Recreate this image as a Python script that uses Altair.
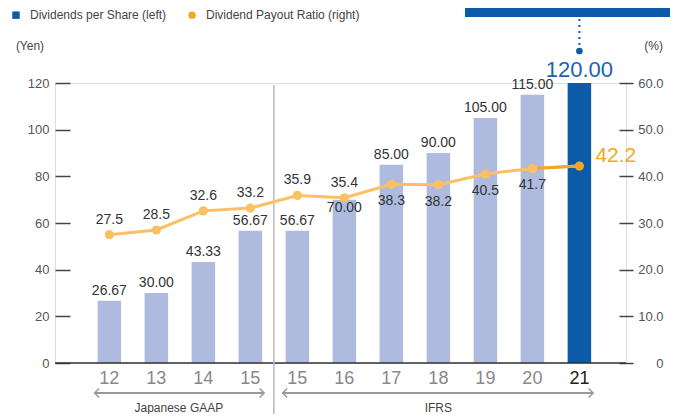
import altair as alt
import pandas as pd

# ---------------- data ----------------
cats = ["J12", "J13", "J14", "J15", "I15", "I16", "I17", "I18", "I19", "I20", "I21"]
dps = [26.67, 30.00, 43.33, 56.67, 56.67, 70.00, 85.00, 90.00, 105.00, 115.00, 120.00]
payout = [27.5, 28.5, 32.6, 33.2, 35.9, 35.4, 38.3, 38.2, 40.5, 41.7, 42.2]
left_ticks = [0, 20, 40, 60, 80, 100, 120]
right_ticks = [0, 10, 20, 30, 40, 50, 60]
legend_names = ["Dividends per Share (left)", "Dividend Payout Ratio (right)"]
axis_titles = ["(Yen)", "(%)"]
regimes = ["Japanese GAAP", "IFRS"]
regime_start = ["J12", "I15"]
regime_end = ["J15", "I21"]
payout_below = ["I17", "I18", "I19", "I20"]
dps_inside = ["I16"]
highlight = "I21"

df = pd.DataFrame({"cat": cats, "dps": dps, "payout": payout})
df["dps_label"] = [f"{v:.2f}" for v in dps]
df["pay_label"] = [f"{v:.1f}" for v in payout]
reg = pd.DataFrame({"regime": regimes, "start": regime_start, "end": regime_end})
one = pd.DataFrame({"k": [0]})

# ---------------- style ----------------
FONT = "Liberation Sans"
W, H = 571, 280
BAR = "#AEBBDF"
BLUE = "#0B5BA9"
BLUE_TXT = "#1B62B3"
OR_L = "#FCC064"
OR = "#F5A623"
TXT = "#333333"
GRAY = "#999999"
HALF_GAP = 11.75

xs = alt.Scale(domain=cats, paddingInner=0.5, paddingOuter=0.824, align=0.55)
ysl = alt.Scale(domain=[0, 120], nice=False)
ysr = alt.Scale(domain=[0, 60], nice=False)

x_axis = alt.Axis(title=None, ticks=False, domain=False, labelAngle=0,
                  labelExpr="substring(datum.label, 1)", labelFontSize=18,
                  labelFont=FONT, labelPadding=6,
                  labelColor={"condition": {"test": "datum.value === 'I21'", "value": "#222222"},
                              "value": "#888888"})

def X(**kw):
    return alt.X("cat:N", scale=xs, axis=x_axis, **kw)

# ---------------- left group (bars) ----------------
bars = alt.Chart(df).mark_bar().encode(
    x=X(),
    y=alt.Y("dps:Q", scale=ysl,
            axis=alt.Axis(title=None, values=left_ticks, orient="left", offset=-15,
                          tickSize=15, tickWidth=1.5, tickColor="#444444",
                          domain=False, grid=False, labelFontSize=13,
                          labelColor="#555555", labelPadding=6, labelFont=FONT)),
    color=alt.condition(alt.datum.cat == highlight, alt.value(BLUE), alt.value(BAR)),
)

zero = alt.Chart(one).mark_rule(color="#333333", strokeWidth=1.5).encode(
    y=alt.Y(datum=0, scale=ysl))

bar_lab = alt.Chart(df).transform_filter(
    {"not": alt.FieldOneOfPredicate(field="cat", oneOf=dps_inside + [highlight])}
).mark_text(dy=-10, fontSize=14, color=TXT, font=FONT).encode(
    x=X(), y=alt.Y("dps:Q", scale=ysl), text="dps_label:N")

bar_lab_in = alt.Chart(df).transform_filter(
    alt.FieldOneOfPredicate(field="cat", oneOf=dps_inside)
).mark_text(dy=8, fontSize=14, color=TXT, font=FONT).encode(
    x=X(), y=alt.Y("dps:Q", scale=ysl), text="dps_label:N")

bar_lab_hi = alt.Chart(df).transform_filter(alt.datum.cat == highlight).mark_text(
    dy=-13, fontSize=22, color=BLUE_TXT, font=FONT).encode(
    x=X(), y=alt.Y("dps:Q", scale=ysl), text="dps_label:N")

sep = alt.Chart(one).mark_rule(color="#BBBBBB", strokeWidth=1.5, xOffset=HALF_GAP).encode(
    x=alt.X(datum="J15", type="nominal", scale=xs, bandPosition=1),
    y=alt.value(2), y2=alt.value(H + 60))

arrow_line = alt.Chart(reg).mark_rule(color=GRAY, strokeWidth=2,
                                      xOffset=-3, x2Offset=2).encode(
    x=alt.X("start:N", scale=xs, bandPosition=0),
    x2=alt.X2("end:N", bandPosition=1),
    y=alt.value(H + 30))
arrow_l = alt.Chart(reg).mark_point(shape="M1,-1L0,0L1,1", size=81, filled=False,
                                    color=GRAY, strokeWidth=1.5, opacity=1,
                                    xOffset=-3).encode(
    x=alt.X("start:N", scale=xs, bandPosition=0), y=alt.value(H + 30))
arrow_r = alt.Chart(reg).mark_point(shape="M-1,-1L0,0L-1,1", size=81, filled=False,
                                    color=GRAY, strokeWidth=1.5, opacity=1,
                                    xOffset=2).encode(
    x=alt.X("end:N", scale=xs, bandPosition=1), y=alt.value(H + 30))
reg_lab1 = alt.Chart(reg).transform_filter(alt.datum.regime == regimes[0]).mark_text(
    fontSize=12, color="#444444", font=FONT, xOffset=HALF_GAP - 1).encode(
    x=alt.X(datum="J13", type="nominal", scale=xs, bandPosition=1),
    y=alt.value(H + 45), text="regime:N")
reg_lab2 = alt.Chart(reg).transform_filter(alt.datum.regime == regimes[1]).mark_text(
    fontSize=12, color="#444444", font=FONT).encode(
    x=alt.X(datum="I18", type="nominal", scale=xs, bandPosition=0.5),
    y=alt.value(H + 45), text="regime:N")

title_l = alt.Chart(pd.DataFrame({"t": [axis_titles[0]]})).mark_text(
    fontSize=12, color="#444444", font=FONT, align="center").encode(
    x=alt.value(-25), y=alt.value(-37.5), text="t:N")
title_r = alt.Chart(pd.DataFrame({"t": [axis_titles[1]]})).mark_text(
    fontSize=12, color="#444444", font=FONT, align="right").encode(
    x=alt.value(608), y=alt.value(-37.5), text="t:N")

box = alt.Chart(one).mark_rect(color=BLUE).encode(
    x=alt.value(410), x2=alt.value(615), y=alt.value(-80), y2=alt.value(-66))
dots = alt.Chart(one).mark_rule(color=BLUE, strokeWidth=2, strokeDash=[2, 4]).encode(
    x=alt.X(datum=highlight, type="nominal", scale=xs, bandPosition=0.5),
    y=alt.value(-64), y2=alt.value(-36))
dot = alt.Chart(one).mark_circle(color=BLUE, size=45, opacity=1).encode(
    x=alt.X(datum=highlight, type="nominal", scale=xs, bandPosition=0.5),
    y=alt.value(-32))

leg_def = dict(orient="none", legendX=-45, legendY=-74,
               direction="horizontal", title=None,
               symbolSize=55, symbolOpacity=1,
               labelFontSize=12, labelColor="#444444",
               labelFont=FONT, columnPadding=18,
               labelOffset=8, padding=0)
leg = alt.Chart(pd.DataFrame({"series": legend_names})).mark_point(
    filled=True, opacity=0).encode(
    color=alt.Color("series:N", scale=alt.Scale(domain=legend_names, range=[BLUE, OR]),
                    legend=alt.Legend(**leg_def)),
    shape=alt.Shape("series:N", scale=alt.Scale(domain=legend_names,
                                                range=["square", "circle"]),
                    legend=alt.Legend(**leg_def)),
)

left = alt.layer(bars, zero, bar_lab, bar_lab_in, bar_lab_hi, sep, arrow_line,
                 arrow_l, arrow_r, reg_lab1, reg_lab2, title_l, title_r, box,
                 dots, dot, leg)

# ---------------- right group (line) ----------------
yr = alt.Y("payout:Q", scale=ysr,
           axis=alt.Axis(orient="right", title=None, values=right_ticks, offset=-7,
                         tickSize=14, tickWidth=1.5, tickColor="#444444",
                         domain=False, grid=False, labelAlign="right",
                         labelPadding=30, labelFontSize=13, labelColor="#555555",
                         labelFont=FONT,
                         labelExpr="datum.value == 0 ? '0' : format(datum.value, '.1f')"))

line = alt.Chart(df).mark_line(color=OR_L, strokeWidth=3).encode(x=X(), y=yr)
line_last = alt.Chart(df).transform_filter(
    alt.FieldOneOfPredicate(field="cat", oneOf=cats[-2:])
).mark_line(color=OR, strokeWidth=3).encode(x=X(), y=alt.Y("payout:Q", scale=ysr))
pts = alt.Chart(df).mark_circle(size=85, opacity=1).encode(
    x=X(), y=alt.Y("payout:Q", scale=ysr),
    color=alt.condition(alt.datum.cat == highlight, alt.value(OR), alt.value(OR_L)))
pl_above = alt.Chart(df).transform_filter(
    {"not": alt.FieldOneOfPredicate(field="cat", oneOf=payout_below + [highlight])}
).mark_text(dy=-15, fontSize=14, color=TXT, font=FONT).encode(
    x=X(), y=alt.Y("payout:Q", scale=ysr), text="pay_label:N")
pl_below = alt.Chart(df).transform_filter(
    alt.FieldOneOfPredicate(field="cat", oneOf=payout_below)
).mark_text(dy=17, fontSize=14, color=TXT, font=FONT).encode(
    x=X(), y=alt.Y("payout:Q", scale=ysr), text="pay_label:N")
pl_hi = alt.Chart(df).transform_filter(alt.datum.cat == highlight).mark_text(
    dx=16, dy=-10, align="left", fontSize=21, color=OR, font=FONT).encode(
    x=X(), y=alt.Y("payout:Q", scale=ysr), text="pay_label:N")

right = alt.layer(line, line_last, pts, pl_above, pl_below, pl_hi)

chart = alt.layer(left, right).resolve_scale(y="independent").properties(
    width=W, height=H,
    padding={"left": 47, "top": 75, "right": 49, "bottom": 51},
    autosize=alt.AutoSizeParams(type="none"),
).configure_view(stroke=None).configure(font=FONT, background="white")

chart.save("out.html", embed_options={"renderer": "svg", "actions": False})
